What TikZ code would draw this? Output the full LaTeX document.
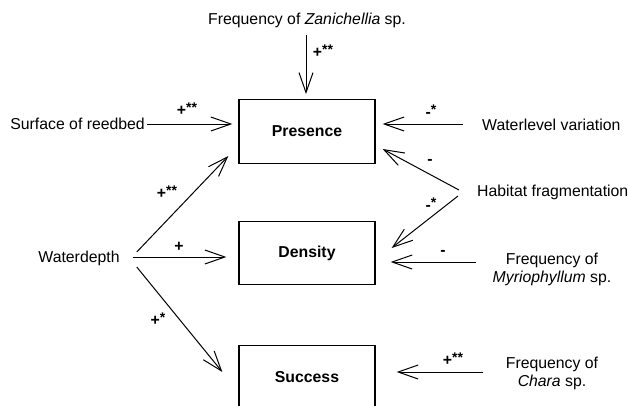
\documentclass[tikz,border=0pt]{standalone}
\usepackage{fontspec}
\setmainfont{Liberation Sans}
\usetikzlibrary{arrows.meta}
\newcommand{\stars}[1]{\raisebox{3.5pt}{\fontsize{14}{16}\selectfont #1}}
\begin{document}
\begin{tikzpicture}[x=1pt,y=-1pt,
  every node/.style={inner sep=0pt,font=\fontsize{15.8}{18}\selectfont},
  boxnode/.style={draw,line width=1.3pt,fill=white,minimum width=136pt,minimum height=63.5pt,font=\fontsize{15.8}{18}\selectfont\bfseries},
  txt/.style={align=center},
  lab/.style={font=\fontsize{15.8}{18}\selectfont\bfseries},
  arr/.style={line width=1pt,-{Straight Barb[length=20pt,width=14pt,line width=1pt]}}]
\useasboundingbox (0,0) rectangle (628,405);
\clip (0,0) rectangle (628,405);
% boxes
\node[boxnode] (pres) at (307,131.5) {Presence};
\node[boxnode] (dens) at (307,253) {Density};
\node[boxnode] (succ) at (307,377) {Success};
% texts
\node[txt] (zan) at (307,20) {Frequency of \textit{Zanichellia} sp.};
\node[txt,anchor=east] (reed) at (145,124) {Surface of reedbed};
\node[txt,anchor=west] (wl) at (482,125) {Waterlevel variation};
\node[txt,anchor=west] (hab) at (477,192) {Habitat fragmentation};
\node[txt] (wd) at (79,258) {Waterdepth};
\node[txt] (myr) at (552,269) {Frequency of\\\textit{Myriophyllum} sp.};
\node[txt] (cha) at (552,373) {Frequency of\\\textit{Chara} sp.};
% arrows
\draw[arr] ([shift={(-1,15)}]zan.center) -- ([shift={(-1,-5)}]pres.north);
\draw[arr] ([shift={(2,0)}]reed.east) -- ([shift={(-6,-7.5)}]pres.west);
\draw[arr] ([shift={(-19,-1)}]wl.west) -- ([shift={(7,-7.5)}]pres.east);
\draw[arr] ([shift={(-18,-2)}]hab.west) -- ([shift={(7,17.5)}]pres.east);
\draw[arr] ([shift={(-19,4)}]hab.west) -- ([shift={(16,-5)}]dens.east);
\draw[arr] ([shift={(-17,-7)}]myr.west) -- ([shift={(15,9)}]dens.east);
\draw[arr] ([shift={(-23,-1)}]cha.west) -- ([shift={(21,-5)}]succ.east);
\draw[arr] ([shift={(13,-1)}]wd.east) -- ([shift={(-12,4)}]dens.west);
\draw[arr] ([shift={(17,-6)}]wd.east) -- ([shift={(-10,24.5)}]pres.west);
\draw[arr] ([shift={(17,9)}]wd.east) -- ([shift={(-16,-5)}]succ.west);
% labels
\node[lab] (l1) at (323,51) {+\stars{**}};
\node[lab] (l2) at (187,109) {+\stars{**}};
\node[lab] (l3) at (431,111) {-\stars{*}};
\node[lab] (l4) at (430,162) {-};
\node[lab] (l5) at (431,204) {-\stars{*}};
\node[lab] (l6) at (443,253) {-};
\node[lab] (l7) at (453,359) {+\stars{**}};
\node[lab] (l8) at (167,192) {+\stars{**}};
\node[lab] (l9) at (179,247) {+};
\node[lab] (l10) at (158,319) {+\stars{*}};
\end{tikzpicture}
\end{document}
